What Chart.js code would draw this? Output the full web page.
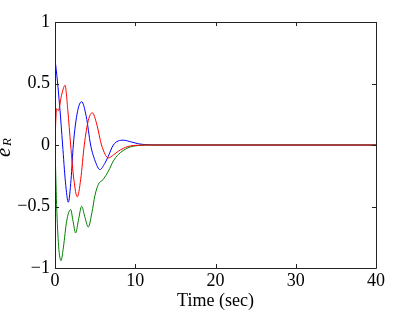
<!DOCTYPE html>
<html>
<head>
<meta charset="utf-8">
<script src="https://cdn.jsdelivr.net/npm/chart.js@4/dist/chart.umd.min.js"></script>
<style>
  body { margin: 0; background: #fff; }
  canvas { display: block; }
</style>
</head>
<body>
<canvas id="err-chart" width="415" height="312"></canvas>
<script>
// values
const xTicks = [0, 10, 20, 30, 40];
const yTicks = [-1, -0.5, 0, 0.5, 1];

const tBlue = [0, 0.3, 0.6, 0.95, 1.3, 1.66, 2.0, 2.28, 2.8, 3.32, 3.9, 4.44, 5.0, 5.6, 6.2, 6.65, 7.27, 8.5, 9.5, 10.4, 11.5, 13, 40];
const eBlue = [0.70, 0.52, 0.30, 0.0, -0.30, -0.465, -0.28, 0.0, 0.27, 0.352, 0.23, 0.0, -0.13, -0.20, -0.15, -0.09, 0.0, 0.039, 0.025, 0.01, 0.002, 0, 0];

const tRed = [0, 0.1, 0.2, 0.42, 0.8, 1.25, 1.6, 1.95, 2.35, 2.78, 3.2, 3.65, 4.15, 4.65, 5.2, 5.8, 6.65, 7.3, 7.9, 9.1, 10.4, 12, 40];
const eRed = [0, 0.2, 0.295, 0.28, 0.40, 0.485, 0.28, 0.0, -0.28, -0.422, -0.28, 0.0, 0.20, 0.262, 0.17, 0.0, -0.105, -0.08, -0.05, -0.012, -0.002, 0, 0];

const tGreen = [0, 0.2, 0.45, 0.75, 1.05, 1.45, 1.95, 2.25, 2.57, 2.95, 3.32, 3.7, 4.15, 4.6, 4.98, 5.4, 6.0, 6.65, 7.27, 7.9, 9.1, 10.4, 12, 40];
const eGreen = [0, -0.485, -0.82, -0.94, -0.83, -0.62, -0.525, -0.62, -0.715, -0.60, -0.498, -0.58, -0.667, -0.55, -0.41, -0.32, -0.28, -0.213, -0.13, -0.077, -0.023, -0.004, 0, 0];

const FONT = "'Liberation Serif', 'DejaVu Serif', serif";

const toPoints = (ts, vs) => ts.map((t, i) => ({ x: t, y: vs[i] }));
const minus = (v) => String(v).replace("-", "\u2212");

// matlab style box with inward ticks + e_R label
const frameTicks = {
  id: "frameTicks",
  afterDraw(chart) {
    const { ctx, chartArea: a, scales } = chart;
    const len = 4;
    ctx.save();
    ctx.strokeStyle = "#222";
    ctx.lineWidth = 1;
    ctx.beginPath();
    ctx.rect(Math.round(a.left) + 0.5, Math.round(a.top) + 0.5,
      Math.round(a.right - a.left), Math.round(a.bottom - a.top));
    xTicks.forEach((v) => {
      const px = Math.round(scales.x.getPixelForValue(v)) + 0.5;
      ctx.moveTo(px, a.bottom); ctx.lineTo(px, a.bottom - len);
      ctx.moveTo(px, a.top); ctx.lineTo(px, a.top + len);
    });
    yTicks.forEach((v) => {
      const py = Math.round(scales.y.getPixelForValue(v)) + 0.5;
      ctx.moveTo(a.left, py); ctx.lineTo(a.left + len, py);
      ctx.moveTo(a.right, py); ctx.lineTo(a.right - len, py);
    });
    ctx.stroke();

    // y label: italic e with subscript R, rotated
    ctx.translate(10, (a.top + a.bottom) / 2);
    ctx.rotate(-Math.PI / 2);
    ctx.fillStyle = "#000";
    ctx.textBaseline = "alphabetic";
    ctx.font = "italic 21px " + FONT;
    ctx.fillText("e", -12, 0);
    ctx.font = "italic 13px " + FONT;
    ctx.fillText("R", -1, 1);
    ctx.restore();
  },
};

new Chart(document.getElementById("err-chart"), {
  type: "line",
  data: {
    datasets: [
      { label: "red", data: toPoints(tRed, eRed), borderColor: "#ff0000" },
      { label: "green", data: toPoints(tGreen, eGreen), borderColor: "#008000" },
      { label: "blue", data: toPoints(tBlue, eBlue), borderColor: "#0000ff" },
    ],
  },
  options: {
    responsive: false,
    animation: false,
    layout: { padding: { left: 0, right: 39, top: 22, bottom: 0 } },
    elements: {
      point: { radius: 0 },
      line: { borderWidth: 1, cubicInterpolationMode: "monotone", fill: false },
    },
    plugins: { legend: { display: false }, tooltip: { enabled: false } },
    scales: {
      x: {
        type: "linear",
        min: 0,
        max: 40,
        afterBuildTicks: (s) => { s.ticks = xTicks.map((v) => ({ value: v })); },
        afterFit: (s) => { s.height = 44; },
        grid: { display: false, drawTicks: false },
        border: { display: false },
        ticks: { color: "#000", padding: 2, font: { family: FONT, size: 18 }, maxRotation: 0 },
        title: {
          display: true,
          text: "Time (sec)",
          color: "#000",
          padding: { top: -4, bottom: 0 },
          font: { family: FONT, size: 18 },
        },
      },
      y: {
        min: -1,
        max: 1,
        afterBuildTicks: (s) => { s.ticks = yTicks.map((v) => ({ value: v })); },
        afterFit: (s) => { s.width = 55; },
        grid: { display: false, drawTicks: false },
        border: { display: false },
        ticks: {
          color: "#000",
          padding: 5,
          font: { family: FONT, size: 18 },
          callback: (v) => minus(v),
        },
      },
    },
  },
  plugins: [frameTicks],
});
</script>
</body>
</html>
